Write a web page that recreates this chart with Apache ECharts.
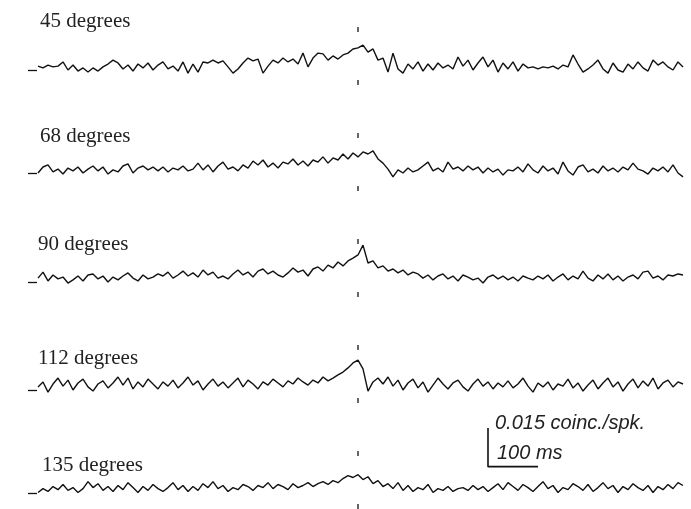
<!DOCTYPE html>
<html lang="en">
<head>
<meta charset="UTF-8">
<title>Cross-correlograms</title>
<style>
  * { margin: 0; padding: 0; }
  html, body { width: 100%; height: 100%; background: #fff; }
  #chart { width: 691px; height: 509px; }
</style>
</head>
<body>
<div id="chart"></div>
<script src="https://cdn.jsdelivr.net/npm/echarts@6/dist/echarts.min.js"></script>
<script>
// orientation labels
var orientations = ['45 degrees', '68 degrees', '90 degrees', '112 degrees', '135 degrees'];

// time lag of the bins, ms (10 ms bins)
var lagsMs = [];
for (var t = -640; t <= 650; t += 10) lagsMs.push(t);

// coincidences per spike, x 0.001, relative to the baseline dash
var deg45 = [1.5,0.8,1.9,1.2,1.5,3.1,0.0,1.9,-0.4,0.8,-0.8,0.8,-0.4,1.2,2.3,3.8,2.7,0.4,1.9,-0.4,
  2.3,0.8,2.7,0.0,1.9,3.1,0.4,1.5,-0.4,3.1,-1.2,2.3,-0.8,3.1,2.7,3.8,2.7,3.5,1.2,-1.2,
  0.4,2.7,4.6,3.5,4.2,-1.2,1.5,3.8,2.7,4.6,3.1,4.2,2.3,6.5,1.2,4.6,6.5,6.2,3.8,5.4,
  4.2,5.8,6.5,8.1,8.5,9.6,6.9,8.1,3.8,4.6,-0.8,6.5,0.4,-1.2,2.3,0.4,3.1,-0.4,2.3,0.0,
  2.7,0.8,1.9,0.4,5.0,1.5,3.8,0.0,2.7,5.0,1.2,3.8,-0.8,2.7,0.4,3.1,-0.4,2.3,0.8,1.2,
  0.4,1.2,0.8,1.5,0.4,1.9,1.2,5.8,2.3,-0.8,0.4,1.9,3.8,0.4,-1.2,2.7,0.0,-0.8,2.3,0.4,
  3.1,0.8,-0.4,3.8,1.9,3.1,1.2,0.0,3.1,1.2];
var deg68 = [0.0,2.3,3.1,0.4,1.5,-0.4,1.9,0.8,2.3,0.0,1.5,2.7,0.8,2.3,-0.4,1.2,0.4,2.7,3.5,0.0,
  1.9,2.7,1.2,2.3,0.8,2.3,0.4,1.9,1.2,2.7,0.8,1.5,3.8,1.2,3.1,0.4,2.7,4.2,1.5,2.3,
  0.8,3.1,1.9,4.6,3.1,5.0,2.3,3.8,1.9,4.2,3.5,5.4,3.1,4.6,2.7,5.0,4.2,6.2,3.8,5.8,
  5.0,7.3,5.4,7.7,6.2,8.1,7.3,8.5,5.4,3.8,1.5,-1.5,1.2,0.0,1.9,0.4,1.2,2.7,4.2,0.8,
  1.9,0.4,4.2,1.5,2.3,0.8,2.7,1.2,2.3,0.0,1.9,0.4,1.5,-0.8,1.2,0.8,2.3,0.4,3.5,1.2,
  0.0,2.7,0.8,1.9,-0.4,4.2,0.8,-0.8,2.3,3.1,0.4,1.5,0.0,2.7,0.8,1.9,0.4,2.3,1.2,3.8,
  1.5,0.8,-0.4,1.9,0.8,2.3,0.4,3.1,0.0,-1.5];
var deg90 = [1.5,3.8,0.4,2.7,1.2,1.9,-0.4,0.8,2.3,0.4,2.7,3.1,1.2,2.3,0.0,1.9,0.8,2.3,3.5,1.5,
  0.4,2.7,1.2,1.9,3.1,2.3,3.8,1.5,2.7,4.2,2.3,3.5,1.9,4.6,2.7,3.8,1.5,2.3,1.2,3.1,
  4.6,2.7,3.8,1.9,4.2,5.0,3.1,4.2,2.7,1.9,3.5,5.4,3.8,4.6,2.3,5.0,5.8,4.2,6.5,5.4,
  7.7,6.2,8.1,9.2,10.4,14.2,7.3,8.1,5.4,6.2,4.2,5.0,3.5,4.6,2.7,3.8,3.1,1.5,2.7,0.8,
  2.3,3.1,1.2,2.3,0.4,2.7,1.9,0.8,1.5,-0.4,1.9,2.7,1.2,2.3,0.8,1.9,0.4,2.3,1.5,0.8,
  2.3,1.2,2.7,0.4,1.9,3.1,0.8,2.3,1.2,4.2,1.5,0.4,2.7,1.2,3.1,0.8,2.3,0.4,1.9,2.7,
  1.2,3.8,4.2,1.5,2.3,0.8,2.7,2.3,3.1,2.7];
var deg112 = [1.2,3.1,-0.8,2.3,4.6,1.5,3.8,0.0,2.7,4.2,1.2,-0.4,2.3,3.5,0.8,2.7,5.0,1.9,4.6,0.4,
  3.1,1.2,4.2,2.3,0.4,3.1,1.5,3.8,0.8,2.7,5.0,1.9,3.5,0.0,2.3,4.2,1.5,3.1,0.8,2.7,
  4.6,1.2,3.8,2.3,0.4,3.1,1.9,4.2,2.7,1.2,3.5,2.3,4.6,3.1,1.9,3.8,2.7,5.0,3.5,4.6,
  5.8,6.9,8.5,10.4,11.5,8.1,-0.4,3.1,4.6,2.3,5.0,1.5,3.8,0.0,2.7,4.2,0.8,3.1,-0.8,1.9,
  4.6,2.3,0.4,2.7,3.8,1.2,-0.4,2.3,4.2,1.5,3.1,0.4,2.7,1.2,3.5,0.8,2.3,4.6,1.5,-0.8,
  2.7,1.2,3.1,0.0,2.3,1.5,4.2,0.8,2.7,-0.4,1.9,3.8,0.4,2.7,4.6,1.2,3.1,-0.4,2.3,4.2,
  0.8,3.5,1.5,4.6,0.4,2.7,3.8,1.2,3.1,2.3];
var deg135 = [0.4,1.9,0.8,2.7,1.5,3.5,1.2,2.3,0.4,1.9,4.6,2.3,3.8,1.2,2.7,0.8,3.1,1.5,4.2,2.3,
  0.4,2.7,1.2,3.5,1.9,0.8,2.3,4.2,1.5,3.1,0.8,2.7,1.2,3.8,2.3,4.6,1.9,3.1,0.8,2.3,
  1.5,3.5,2.7,1.2,3.1,2.3,4.2,1.9,3.5,2.7,1.5,3.8,2.3,3.1,4.2,2.7,3.8,4.6,3.5,5.0,
  4.2,5.8,6.9,6.2,7.3,5.4,6.5,3.8,5.0,2.7,3.8,1.9,4.2,1.2,3.1,0.8,2.3,1.5,3.5,0.4,
  1.9,1.2,2.7,0.8,1.9,2.3,1.2,3.1,1.5,2.7,0.8,2.3,3.8,1.5,4.2,2.7,1.2,3.5,2.3,0.8,
  2.7,4.6,1.9,3.1,0.4,2.3,1.5,3.8,2.7,1.2,3.5,0.8,2.3,4.2,1.9,3.1,0.4,2.7,1.5,3.8,
  2.3,1.2,3.1,0.4,2.7,1.5,3.5,1.9,4.2,3.1];
var traces = [deg45, deg68, deg90, deg112, deg135];

// scale bar: 100 ms and 0.015 coinc./spk. (= 15 units)
var scaleMs = 100;
var scaleUnits = 15;

// layout
var baselineY = [70, 173, 282, 390, 494];
var pxPerUnit = 2.6;
var yMin = -6, yMax = 26;
var xMin = -660, xMax = 650;
var gridLeft = 28, gridWidth = 655;
var scaleBarAt = [260, 10.4];

var chart = echarts.init(document.getElementById('chart'));

var grids = [], xAxes = [], yAxes = [], series = [], graphics = [];
var labelPos = [[40, 21], [40, 136], [38, 244], [38, 358], [42, 465]];

traces.forEach(function (vals, k) {
  grids.push({
    left: gridLeft, width: gridWidth,
    top: baselineY[k] - yMax * pxPerUnit,
    height: (yMax - yMin) * pxPerUnit
  });
  xAxes.push({ type: 'value', gridIndex: k, min: xMin, max: xMax, show: false });
  yAxes.push({ type: 'value', gridIndex: k, min: yMin, max: yMax, show: false });
  series.push({
    type: 'line',
    xAxisIndex: k, yAxisIndex: k,
    data: lagsMs.map(function (t, i) { return [t, vals[i]]; }),
    showSymbol: false,
    silent: true,
    clip: false,
    lineStyle: { color: '#111', width: 1.4 },
    markLine: {
      silent: true,
      symbol: 'none',
      label: { show: false },
      lineStyle: { color: '#111', width: 1.3, type: 'solid' },
      data: [[{ coord: [xMin, 0] }, { coord: [xMin + 18, 0] }]]
    }
  });
  graphics.push({
    type: 'text', x: labelPos[k][0], y: labelPos[k][1],
    style: {
      text: orientations[k], font: '21px "Liberation Serif"',
      fill: '#222', verticalAlign: 'middle'
    }
  });
});

// scale bar drawn in the last trace's axes
series.push({
  type: 'line', xAxisIndex: 4, yAxisIndex: 4,
  data: [
    [scaleBarAt[0], scaleBarAt[1] + scaleUnits],
    [scaleBarAt[0], scaleBarAt[1]],
    [scaleBarAt[0] + scaleMs, scaleBarAt[1]]
  ],
  showSymbol: false, silent: true, clip: false,
  lineStyle: { color: '#111', width: 1.6 }
});

// vertical dashed line at zero lag over the whole figure
grids.push({ left: gridLeft, width: gridWidth, top: 27, bottom: 0 });
xAxes.push({ type: 'value', gridIndex: 5, min: xMin, max: xMax, show: false });
yAxes.push({ type: 'value', gridIndex: 5, min: 0, max: 1, show: false });
series.push({
  type: 'line', xAxisIndex: 5, yAxisIndex: 5,
  data: [[0, 1], [0, 0]],
  showSymbol: false, silent: true,
  lineStyle: { color: '#111', width: 1.3, type: [5, 48] }
});

graphics.push({
  type: 'text', x: 495, y: 423,
  style: { text: '0.015 coinc./spk.', font: 'italic 20px "Liberation Sans"', fill: '#222', verticalAlign: 'middle' }
});
graphics.push({
  type: 'text', x: 497, y: 453,
  style: { text: '100 ms', font: 'italic 20px "Liberation Sans"', fill: '#222', verticalAlign: 'middle' }
});

chart.setOption({
  animation: false,
  backgroundColor: '#fff',
  grid: grids,
  xAxis: xAxes,
  yAxis: yAxes,
  series: series,
  graphic: graphics
});
</script>
</body>
</html>
